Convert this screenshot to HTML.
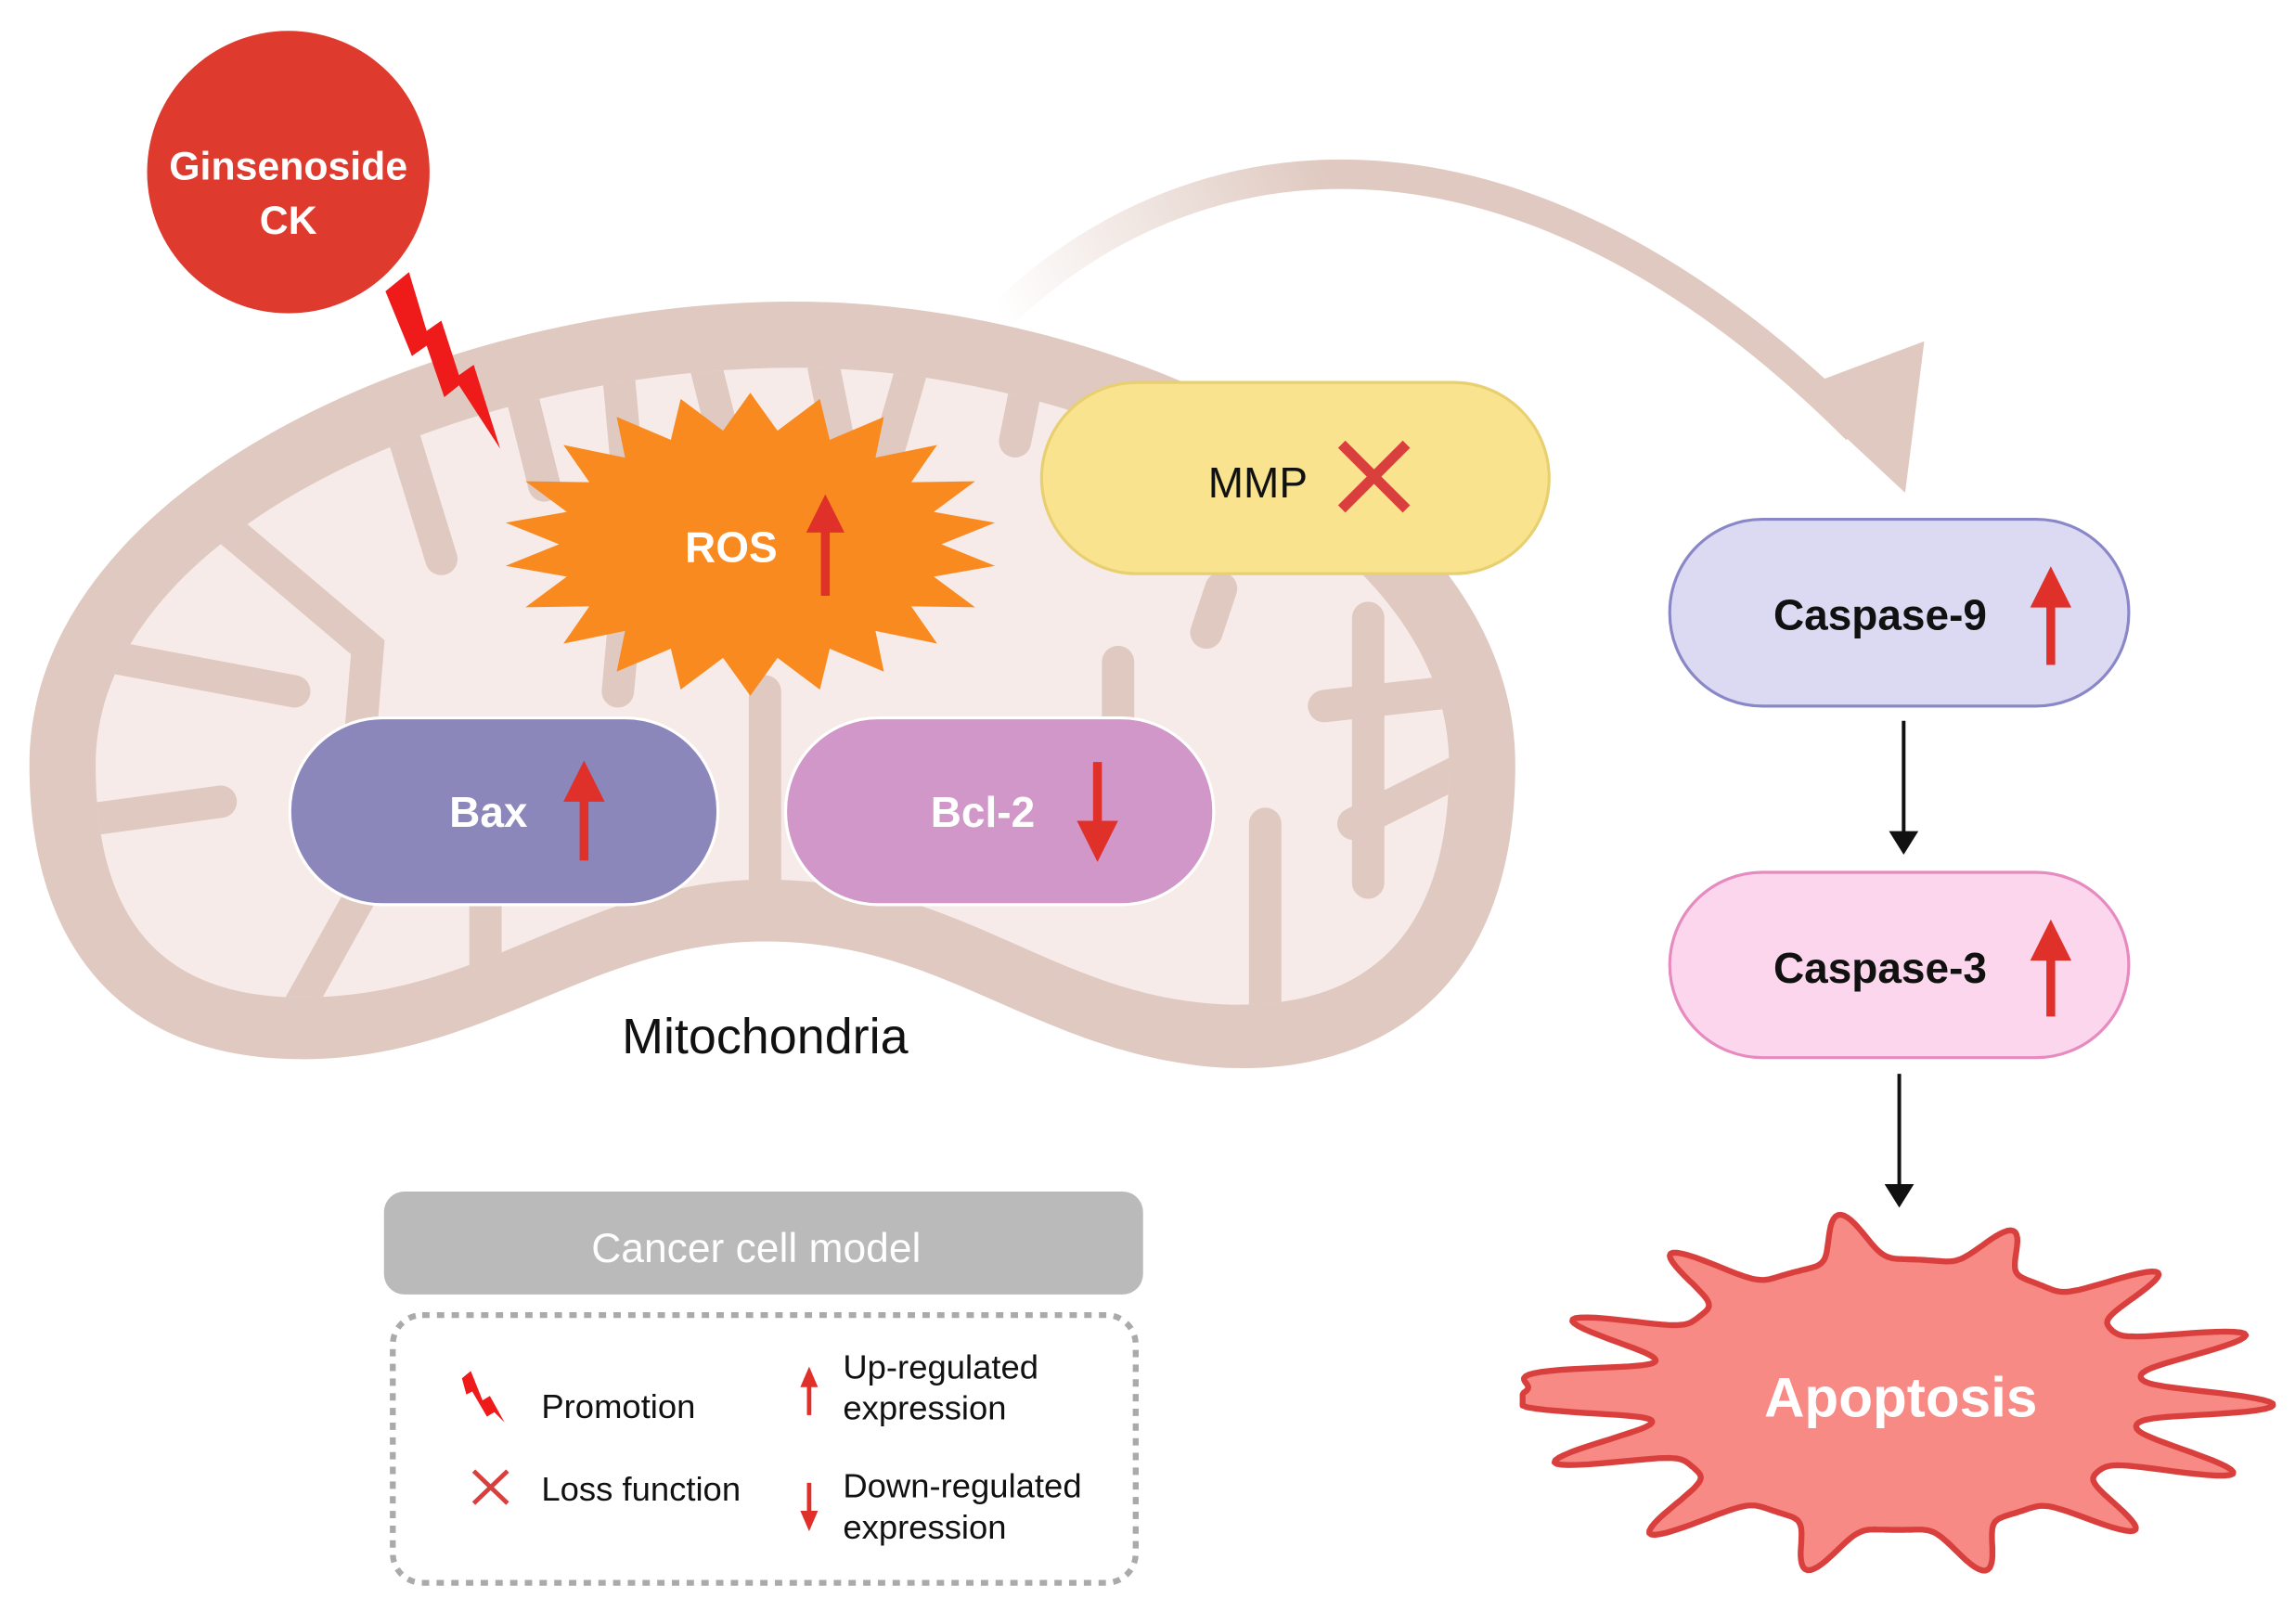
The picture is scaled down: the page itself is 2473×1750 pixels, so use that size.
<!DOCTYPE html>
<html><head><meta charset="utf-8"><style>
html,body{margin:0;padding:0;background:#fff;}
svg{display:block;}
text{font-family:"Liberation Sans",sans-serif;}
</style></head><body>
<svg id="s" width="2473" height="1750" viewBox="0 0 1560 1104" preserveAspectRatio="none" xmlns="http://www.w3.org/2000/svg">
<defs>
<linearGradient id="ag" x1="680" y1="215" x2="900" y2="110" gradientUnits="userSpaceOnUse">
<stop offset="0" stop-color="#dfc9c0" stop-opacity="0"/><stop offset="1" stop-color="#dfc9c0"/></linearGradient>
<clipPath id="inner"><path d="M65,520 C65,360 320,250 540,250 C740,250 985,360 985,520 C985,650 915,690 820,682 C710,672 650,598 520,598 C395,598 330,680 200,678 C105,676 65,620 65,520 Z"/></clipPath>
</defs>
<path d="M680,215 C820,80 1040,70 1262,292" fill="none" stroke="url(#ag)" stroke-width="20"/>
<polygon points="1220,265 1308,232 1295,335" fill="#dfc9c0"/>
<path d="M20,520 C20,330 300,205 540,205 C760,205 1030,330 1030,520 C1030,680 930,735 820,725 C700,712 640,640 520,640 C400,640 330,722 200,720 C80,718 20,640 20,520 Z" fill="#dfc9c0"/>
<path d="M65,520 C65,360 320,250 540,250 C740,250 985,360 985,520 C985,650 915,690 820,682 C710,672 650,598 520,598 C395,598 330,680 200,678 C105,676 65,620 65,520 Z" fill="#f6ebe8"/>
<g clip-path="url(#inner)" stroke="#dfc9c0" stroke-width="22" stroke-linecap="round" fill="none">
<path d="M40,560 L150,545"/><path d="M40,440 L200,470"/><path d="M120,330 L250,440 L240,560"/>
<path d="M200,690 L250,600"/><path d="M260,250 L300,380"/><path d="M350,250 L370,330"/>
<path d="M330,690 L330,590"/><path d="M420,250 L430,360 L420,470"/><path d="M480,250 L500,330"/>
<path d="M560,250 L570,300"/><path d="M520,650 L520,470"/><path d="M620,250 L600,320"/>
<path d="M700,250 L690,300"/><path d="M760,450 L760,600"/><path d="M830,400 L820,430"/>
<path d="M860,700 L860,560"/><path d="M930,420 L930,600"/><path d="M1000,520 L920,560"/>
<path d="M900,480 L990,470"/><path d="M600,700 L600,560"/>
</g>
<circle cx="196" cy="117" r="96" fill="#de3a2e"/>
<text x="196" y="122" font-size="27" font-weight="bold" fill="#fff" text-anchor="middle">Ginsenoside</text>
<text x="196" y="159" font-size="27" font-weight="bold" fill="#fff" text-anchor="middle">CK</text>
<polygon points="262,198 278,185 290,225 300,218 312,255 322,248 340,305 312,262 302,270 290,235 280,242" fill="#ef1a1a"/>
<polygon id="ros" fill="#f98a1f"/>
<text x="497" y="382" font-size="29" font-weight="bold" fill="#fff" text-anchor="middle">ROS</text>
<line x1="561" y1="405" x2="561" y2="360" stroke="#e0302a" stroke-width="6"/><polygon points="548,362 574,362 561,336" fill="#e0302a"/>
<rect x="708" y="260" width="345" height="130" rx="65" fill="#f9e38e" stroke="#e8d070" stroke-width="2"/>
<text x="855" y="338" font-size="29" fill="#111" text-anchor="middle">MMP</text>
<path d="M912,302 L956,346 M956,302 L912,346" stroke="#d9403d" stroke-width="7"/>
<rect x="197" y="488" width="291" height="127" rx="63" fill="#8b87bb" stroke="#fff" stroke-width="2"/>
<text x="332" y="562" font-size="29" font-weight="bold" fill="#fff" text-anchor="middle">Bax</text>
<line x1="397" y1="585" x2="397" y2="540" stroke="#e0302a" stroke-width="6"/><polygon points="383,545 411,545 397,517" fill="#e0302a"/>
<rect x="534" y="488" width="291" height="127" rx="63" fill="#d097c8" stroke="#fff" stroke-width="2"/>
<text x="668" y="562" font-size="29" font-weight="bold" fill="#fff" text-anchor="middle">Bcl-2</text>
<line x1="746" y1="518" x2="746" y2="562" stroke="#e0302a" stroke-width="6"/><polygon points="732,558 760,558 746,586" fill="#e0302a"/>
<text x="520" y="716" font-size="34" fill="#111" text-anchor="middle">Mitochondria</text>
<rect x="1135" y="353" width="312" height="127" rx="63" fill="#dcdaf2" stroke="#8a87c8" stroke-width="2"/>
<text x="1278" y="428" font-size="29" font-weight="bold" fill="#111" text-anchor="middle">Caspase-9</text>
<line x1="1394" y1="452" x2="1394" y2="410" stroke="#e0302a" stroke-width="6"/><polygon points="1380,413 1408,413 1394,385" fill="#e0302a"/>
<line x1="1294" y1="490" x2="1294" y2="568" stroke="#111" stroke-width="2.5"/><polygon points="1284,565 1304,565 1294,581" fill="#111"/>
<rect x="1135" y="593" width="312" height="126" rx="63" fill="#fcd6ec" stroke="#e68ac0" stroke-width="2"/>
<text x="1278" y="668" font-size="29" font-weight="bold" fill="#111" text-anchor="middle">Caspase-3</text>
<line x1="1394" y1="691" x2="1394" y2="650" stroke="#e0302a" stroke-width="6"/><polygon points="1380,653 1408,653 1394,625" fill="#e0302a"/>
<path id="apo" fill="#f78a85" stroke="#d9403d" stroke-width="4" stroke-linejoin="round"/>
<line x1="1291" y1="730" x2="1291" y2="808" stroke="#111" stroke-width="2.5"/><polygon points="1281,805 1301,805 1291,821" fill="#111"/>
<text x="1292" y="963" font-size="38" font-weight="bold" fill="#fff" text-anchor="middle">Apoptosis</text>
<rect x="261" y="810" width="516" height="70" rx="14" fill="#bababa"/>
<text x="514" y="858" font-size="28" fill="#fff" text-anchor="middle">Cancer cell model</text>
<rect x="267" y="894" width="505" height="182" rx="20" fill="none" stroke="#aaa" stroke-width="4" stroke-dasharray="5,5"/>
<polygon points="314,937 320,932 328,952 333,949 343,967 351,975 336,960 331,963 321,946 317,948" fill="#ef1a1a"/>
<text x="368" y="964" font-size="23" fill="#111">Promotion</text>
<path d="M322,1000 L345,1022 M345,1000 L322,1022" stroke="#d9403d" stroke-width="3"/>
<text x="368" y="1020" font-size="23" fill="#111">Loss function</text>
<line x1="550" y1="962" x2="550" y2="940" stroke="#e0302a" stroke-width="3"/><polygon points="544,943 556,943 550,929" fill="#e0302a"/>
<text x="573" y="937" font-size="23" fill="#111">Up-regulated</text>
<text x="573" y="965" font-size="23" fill="#111">expression</text>
<line x1="550" y1="1008" x2="550" y2="1030" stroke="#e0302a" stroke-width="3"/><polygon points="544,1027 556,1027 550,1041" fill="#e0302a"/>
<text x="573" y="1018" font-size="23" fill="#111">Down-regulated</text>
<text x="573" y="1046" font-size="23" fill="#111">expression</text>
</svg>
<script>
(function(){
var p=[],n=22,cx=510,cy=370;
for(var i=0;i<n*2;i++){var a=i*Math.PI/n-Math.PI/2;var o=i%2==0;var rx=o?168:130,ry=o?103:78;
p.push((cx+rx*Math.cos(a)).toFixed(1)+","+(cy+ry*Math.sin(a)).toFixed(1));}
document.getElementById('ros').setAttribute('points',p.join(' '));
var sp=[[-2.75,0.45],[-2.3,0.4],[-1.75,0.35],[-1.2,0.3],[-0.7,0.4],[-0.3,0.5],[0.05,0.55],[0.4,0.5],[0.8,0.4],[1.3,0.35],[1.85,0.35],[2.35,0.45],[2.8,0.5],[3.1,0.55],[-3.05,0.5]];
var d="";cx=1290;cy=948;
for(var k=0;k<=720;k++){var t=-Math.PI+k*2*Math.PI/720;var b=0;
for(var j=0;j<sp.length;j++){var dt=t-sp[j][0];dt=Math.atan2(Math.sin(dt),Math.cos(dt));b+=sp[j][1]*Math.exp(-(dt/0.08)*(dt/0.08));}
var r=1+b;var x=cx+165*r*Math.cos(t),y=cy+92*r*Math.sin(t);
if(y<808)y=808;if(y>1075)y=1075;if(x<1035)x=1035;if(x>1545)x=1545;
d+=(k?"L":"M")+x.toFixed(1)+","+y.toFixed(1);}
document.getElementById('apo').setAttribute('d',d+"Z");
})();
</script>
</body></html>
